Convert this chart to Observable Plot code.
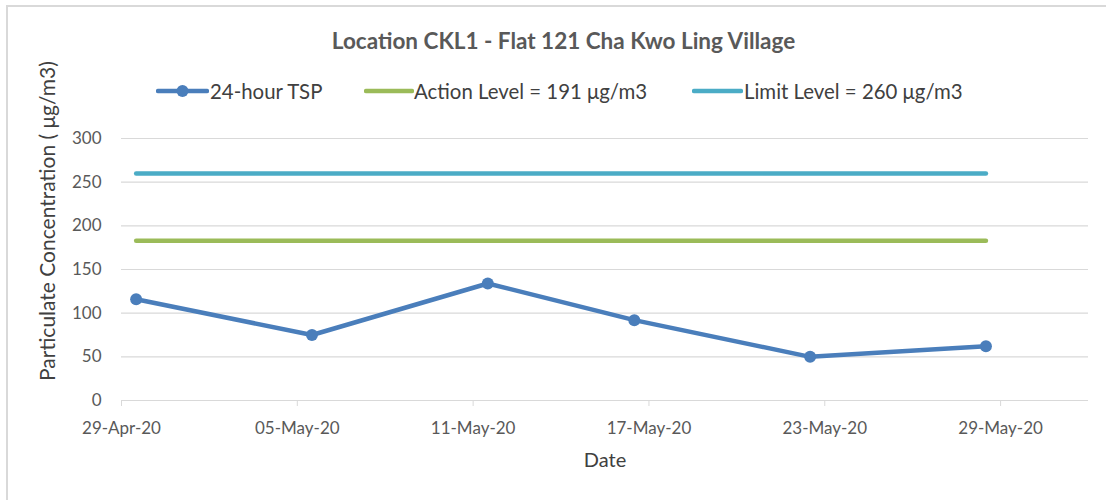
<!DOCTYPE html>
<html>
<head>
<meta charset="utf-8">
<script src="https://cdn.jsdelivr.net/npm/d3@7"></script>
<script src="https://cdn.jsdelivr.net/npm/@observablehq/plot@0.6"></script>
<style>
  body { margin: 0; background: #fff; font-family: Lato, "Open Sans", sans-serif; }
  #wrap { position: relative; width: 1106px; height: 500px; overflow: hidden; }
  #frame { position: absolute; left: 6px; top: 5px; width: 1200px; height: 600px; border-top: 2px solid #d9d9d9; border-left: 2px solid #d9d9d9; }
  #title { position: absolute; left: 0; top: 27px; width: 1127px; text-align: center; font-weight: bold; font-size: 22.5px; color: #595959; line-height: 28px; }
  .leg { position: absolute; top: 79px; font-size: 20.4px; color: #404040; white-space: nowrap; line-height: 24px; }
  .sw { position: absolute; top: 80px; }
  #ylabel { position: absolute; left: 47px; top: 221px; width: 400px; margin-left: -200px; margin-top: -12px; text-align: center; font-size: 21px; line-height: 24px; color: #404040; transform: rotate(-90deg); white-space: nowrap; }
  #chart { position: absolute; left: 0; top: 110px; }
</style>
</head>
<body>
<div id="wrap">
  <div id="frame"></div>
  <div id="title"></div>
  <div id="legend"></div>
  <div id="ylabel"></div>
  <div id="chart"></div>
</div>
<script>
// ---- data ----
const chartTitle = "Location CKL1 - Flat 121 Cha Kwo Ling Village";
const seriesNames = ["24-hour TSP", "Action Level = 191 μg/m3", "Limit Level = 260 μg/m3"];
const seriesColors = ["#4a7ebb", "#9bbb59", "#4bacc6"];
const sampleDates = ["2020-04-29", "2020-05-05", "2020-05-11", "2020-05-16", "2020-05-22", "2020-05-28"];
const tspValues = [116, 75, 134, 92, 50, 62];
const actionLevelDrawn = 183;
const limitLevelDrawn = 260;
const tickDates = ["2020-04-29", "2020-05-05", "2020-05-11", "2020-05-17", "2020-05-23", "2020-05-29"];
const tickLabels = ["29-Apr-20", "05-May-20", "11-May-20", "17-May-20", "23-May-20", "29-May-20"];
const yTicks = [0, 50, 100, 150, 200, 250, 300];
const xDomain = ["2020-04-29", "2020-06-01"];
const yLabel = "Particulate Concentration ( μg/m3)";
const xLabel = "Date";

// ---- build ----
const day = s => new Date(s + "T00:00:00Z");
const mid = s => new Date(s + "T12:00:00Z");
const tsp = sampleDates.map((d, i) => ({date: mid(d), value: tspValues[i]}));
const ends = [sampleDates[0], sampleDates[sampleDates.length - 1]];
const action = ends.map(d => ({date: mid(d), value: actionLevelDrawn}));
const limit = ends.map(d => ({date: mid(d), value: limitLevelDrawn}));
const ticks = tickDates.map(day);
const labelOf = new Map(ticks.map((t, i) => [+t, tickLabels[i]]));

document.getElementById("title").textContent = chartTitle;
document.getElementById("ylabel").textContent = yLabel;

// legend
const legendPos = [
  {sx: 158, sw: 49, tx: 210, marker: true},
  {sx: 366, sw: 46, tx: 414, marker: false},
  {sx: 694, sw: 47, tx: 744, marker: false}
];
const legend = document.getElementById("legend");
const svgNS = "http://www.w3.org/2000/svg";
legendPos.forEach((p, i) => {
  const s = document.createElementNS(svgNS, "svg");
  s.setAttribute("class", "sw");
  s.setAttribute("width", p.sw + 4);
  s.setAttribute("height", 22);
  s.style.left = (p.sx - 2) + "px";
  const l = document.createElementNS(svgNS, "line");
  l.setAttribute("x1", 2); l.setAttribute("x2", p.sw + 2);
  l.setAttribute("y1", 11); l.setAttribute("y2", 11);
  l.setAttribute("stroke", seriesColors[i]);
  l.setAttribute("stroke-width", 4.5);
  l.setAttribute("stroke-linecap", "round");
  s.appendChild(l);
  if (p.marker) {
    const c = document.createElementNS(svgNS, "circle");
    c.setAttribute("cx", p.sw / 2 + 2); c.setAttribute("cy", 11); c.setAttribute("r", 6);
    c.setAttribute("fill", seriesColors[i]);
    s.appendChild(c);
  }
  legend.appendChild(s);
  const t = document.createElement("span");
  t.className = "leg";
  t.style.left = p.tx + "px";
  t.textContent = seriesNames[i];
  legend.appendChild(t);
});

const chart = Plot.plot({
  width: 1106,
  height: 390,
  marginLeft: 121,
  marginRight: 18,
  marginTop: 28,
  marginBottom: 100,
  style: {fontFamily: "Lato, 'Open Sans', sans-serif", background: "transparent"},
  x: {type: "utc", domain: xDomain.map(day)},
  y: {domain: [0, 300]},
  marks: [
    Plot.gridY(yTicks.slice(1), {stroke: "#d9d9d9", strokeOpacity: 1, strokeWidth: 1.2}),
    Plot.ruleY([0], {stroke: "#d9d9d9", strokeWidth: 1.2}),
    Plot.axisY(yTicks, {tickSize: 0, tickPadding: 20, fontSize: 17, fill: "#595959", label: null}),
    Plot.axisX(ticks, {tickSize: 6, tickPadding: 15, stroke: "#d9d9d9", fontSize: 17, fill: "#595959", label: null, tickFormat: d => labelOf.get(+d)}),
    Plot.text([xLabel], {frameAnchor: "bottom", dy: 66, fontSize: 20, fill: "#404040"}),
    Plot.line(limit, {x: "date", y: "value", stroke: seriesColors[2], strokeWidth: 4.5, strokeLinecap: "round"}),
    Plot.line(action, {x: "date", y: "value", stroke: seriesColors[1], strokeWidth: 4.5, strokeLinecap: "round"}),
    Plot.line(tsp, {x: "date", y: "value", stroke: seriesColors[0], strokeWidth: 4.5, strokeLinejoin: "round", strokeLinecap: "round"}),
    Plot.dot(tsp, {x: "date", y: "value", r: 6, fill: seriesColors[0]})
  ]
});
document.getElementById("chart").appendChild(chart);
</script>
</body>
</html>
